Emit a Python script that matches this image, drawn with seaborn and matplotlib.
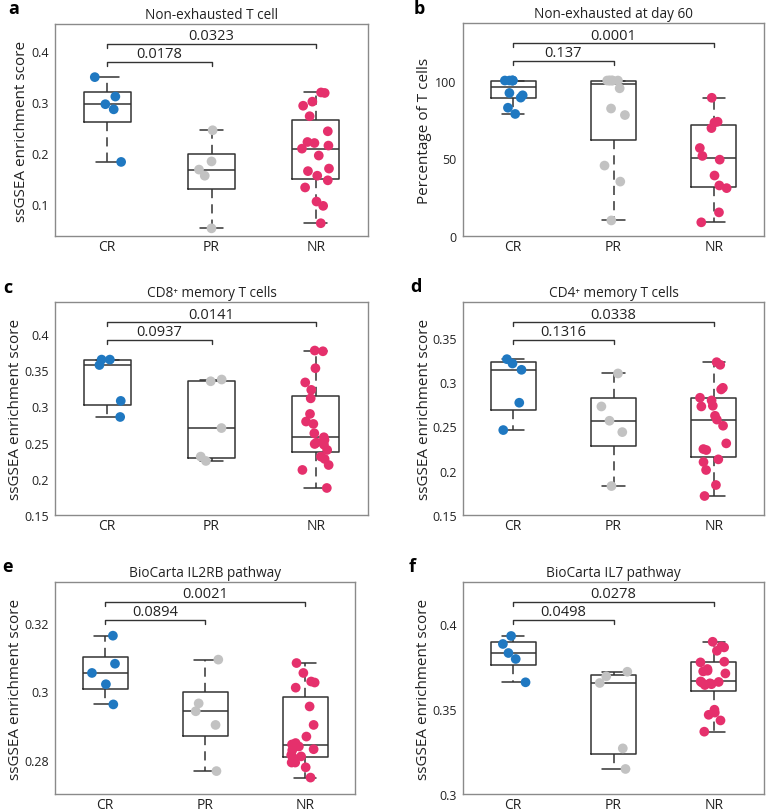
import numpy as np
import pandas as pd
import matplotlib
matplotlib.use("Agg")
import matplotlib.pyplot as plt
import matplotlib.transforms as mtransforms
import seaborn as sns

# ---------------- data ----------------
groups = ["CR", "PR", "NR"]

a_cr = [0.348, 0.310, 0.295, 0.285, 0.182]
a_pr = [0.244, 0.183, 0.167, 0.155, 0.052]
a_nr = [0.318, 0.317, 0.300, 0.292, 0.2715, 0.242, 0.221, 0.219, 0.214, 0.208,
        0.1945, 0.169, 0.164, 0.155, 0.146, 0.132, 0.1045, 0.096, 0.062]

b_cr = [100, 100, 100, 100, 100, 92, 90.5, 89, 82.5, 78.5]
b_pr = [100, 100, 100, 100, 100, 100, 95, 82, 77.8, 45.3, 35, 10]
b_nr = [88.9, 73.5, 73, 69.4, 56.6, 51.5, 49.1, 38.9, 32.5, 30.8, 15.2, 8.8]

c_cr = [0.3645, 0.3645, 0.357, 0.3075, 0.2853]
c_pr = [0.337, 0.3346, 0.270, 0.2306, 0.2246]
c_nr = [0.377, 0.376, 0.3526, 0.333, 0.3227, 0.311, 0.2895, 0.279, 0.2757, 0.2628,
        0.2573, 0.2536, 0.250, 0.248, 0.247, 0.2398, 0.2306, 0.2274, 0.219, 0.2122, 0.1873]

d_cr = [0.3256, 0.3207, 0.3136, 0.2765, 0.2457]
d_pr = [0.3095, 0.2723, 0.2562, 0.2434, 0.1826]
d_nr = [0.3222, 0.3192, 0.2933, 0.2915, 0.2821, 0.2791, 0.2731, 0.2723, 0.2618, 0.2575,
        0.2506, 0.2307, 0.2243, 0.2232, 0.2127, 0.2097, 0.2007, 0.1838, 0.1714]

e_cr = [0.3163, 0.3081, 0.3054, 0.3021, 0.2962]
e_pr = [0.3093, 0.2965, 0.2942, 0.2902, 0.2767]
e_nr = [0.3083, 0.3054, 0.3029, 0.3026, 0.3011, 0.2956, 0.2902, 0.2868, 0.2849, 0.2845,
        0.2839, 0.2831, 0.2828, 0.2814, 0.2810, 0.2807, 0.2792, 0.2792, 0.2778, 0.2748]

f_cr = [0.3928, 0.3881, 0.3828, 0.3793, 0.3656]
f_pr = [0.3718, 0.3691, 0.3652, 0.3268, 0.3147]
f_nr = [0.3894, 0.3867, 0.3861, 0.3841, 0.3777, 0.3773, 0.3734, 0.3724, 0.3720, 0.3708,
        0.3661, 0.3658, 0.3655, 0.3650, 0.3645, 0.3640, 0.3495, 0.3478, 0.3465, 0.3432, 0.3366]

panel_letters = ["a", "b", "c", "d", "e", "f"]
titles = ["Non-exhausted T cell", "Non-exhausted at day 60", "CD8\u207a memory T cells",
          "CD4\u207a memory T cells", "BioCarta IL2RB pathway", "BioCarta IL7 pathway"]
ylabels = ["ssGSEA enrichment score", "Percentage of T cells", "ssGSEA enrichment score",
           "ssGSEA enrichment score", "ssGSEA enrichment score", "ssGSEA enrichment score"]
pvalues = [["0.0178", "0.0323"], ["0.137", "0.0001"], ["0.0937", "0.0141"],
           ["0.1316", "0.0338"], ["0.0894", "0.0021"], ["0.0498", "0.0278"]]
yticks = [[0.1, 0.2, 0.3, 0.4], [0, 50, 100], [0.15, 0.2, 0.25, 0.3, 0.35, 0.4],
          [0.15, 0.2, 0.25, 0.3, 0.35], [0.28, 0.3, 0.32], [0.3, 0.35, 0.4]]
values = [[a_cr, a_pr, a_nr], [b_cr, b_pr, b_nr], [c_cr, c_pr, c_nr],
          [d_cr, d_pr, d_nr], [e_cr, e_pr, e_nr], [f_cr, f_pr, f_nr]]

# ---------------- layout / style ----------------
ylims = [(0.037, 0.452), (0, 137), (0.15, 0.444), (0.15, 0.39), (0.27, 0.332), (0.3, 0.4245)]
W, H = 767, 812
rects = [(55, 25, 313, 212), (463, 24, 301, 213), (55, 303, 313, 213),
         (463, 303, 301, 213), (55, 583, 300, 212), (463, 583, 301, 212)]
letter_pos = [(8, 9), (414, 9), (3, 288), (410, 287), (2, 567), (409, 567)]
ylabel_x = [-0.0815, -0.103, -0.103, -0.104, -0.108, -0.1047]
palette = {"CR": "#1f78c1", "PR": "#c2c2c2", "NR": "#e5306c"}
box_c = "#333333"

sns.set_theme(style="white")
plt.rcParams["font.family"] = ["Open Sans", "DejaVu Sans"]
plt.rcParams["axes.edgecolor"] = "#8a8a8a"
plt.rcParams["axes.linewidth"] = 1.0
plt.rcParams["text.color"] = "#222222"
plt.rcParams["axes.labelcolor"] = "#222222"
plt.rcParams["xtick.color"] = "#222222"
plt.rcParams["ytick.color"] = "#222222"

np.random.seed(7)
fig = plt.figure(figsize=(W / 100, H / 100), dpi=100)

for i in range(6):
    l, t, w, h = rects[i]
    ax = fig.add_axes([l / W, 1 - (t + h) / H, w / W, h / H])
    vals = values[i]
    df = pd.DataFrame({
        "group": np.repeat(groups, [len(v) for v in vals]),
        "value": np.concatenate([np.asarray(v, float) for v in vals]),
    })
    stats = []
    for g, v in zip(groups, vals):
        v = np.asarray(v, float)
        q1, med, q3 = np.percentile(v, [25, 50, 75], method="hazen")
        stats.append(dict(med=med, q1=q1, q3=q3, whislo=v.min(), whishi=v.max(),
                          fliers=[], label=g))
    ax.bxp(stats, positions=[0, 1, 2], widths=0.45, capwidths=0.22, showfliers=False,
           patch_artist=False, manage_ticks=False,
           boxprops=dict(color=box_c, lw=1.1),
           medianprops=dict(color=box_c, lw=1.1),
           whiskerprops=dict(color=box_c, lw=1.1, linestyle=(0, (6, 4))),
           capprops=dict(color=box_c, lw=1.1))
    sns.stripplot(data=df, x="group", y="value", hue="group", order=groups,
                  hue_order=groups, palette=palette, jitter=0.14, size=7,
                  linewidth=0, legend=False, ax=ax, zorder=3)
    ax.set_xlim(-0.5, 2.5)
    ax.set_ylim(*ylims[i])
    ax.set_yticks(yticks[i])
    ax.set_yticklabels(["%g" % v for v in yticks[i]])
    ax.set_xlabel("")
    ax.set_ylabel(ylabels[i], fontsize=11)
    ax.yaxis.set_label_coords(ylabel_x[i], 0.5)
    ax.tick_params(axis="y", length=0, labelsize=9, pad=4.5)
    ax.tick_params(axis="x", length=0, labelsize=10, pad=2.5)
    ax.set_title(titles[i], fontsize=9.8, pad=4)

    trans = mtransforms.blended_transform_factory(ax.transData, ax.transAxes)
    for x_end, yf, lab in [(1, 0.823, pvalues[i][0]), (2, 0.907, pvalues[i][1])]:
        ax.plot([0, 0, x_end, x_end], [yf - 0.02, yf, yf, yf - 0.02], transform=trans,
                color=box_c, lw=1.0, clip_on=False)
        ax.text(x_end / 2, yf + 0.02, lab, transform=trans, ha="center", va="baseline",
                fontsize=10.5)

    lx, ly = letter_pos[i]
    fig.text(lx / W, 1 - ly / H, panel_letters[i], fontsize=13, fontweight="bold",
             ha="left", va="center", color="black")

fig.savefig("out.png", dpi=100)
